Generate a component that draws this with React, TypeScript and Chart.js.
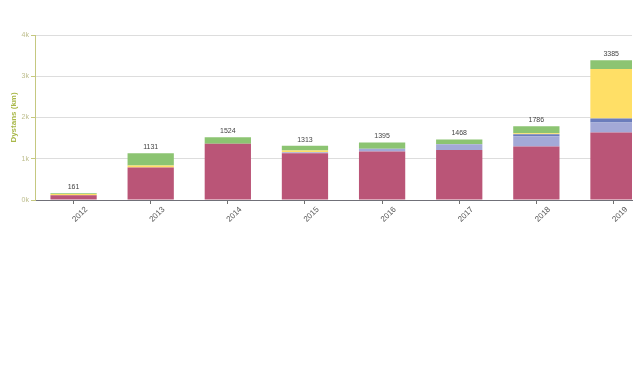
import React, { useEffect, useRef } from "react";
import { Chart, registerables } from "chart.js";

Chart.register(...registerables);

const categories = ["2012", "2013", "2014", "2015", "2016", "2017", "2018", "2019"];
const crimsonValues = [118, 790, 1365, 1135, 1175, 1215, 1300, 1635];
const lavenderValues = [0, 0, 0, 25, 65, 135, 245, 245];
const blueValues = [0, 0, 0, 0, 0, 0, 50, 97];
const yellowValues = [30, 45, 0, 40, 0, 0, 25, 1200];
const greenValues = [13, 296, 159, 113, 155, 118, 166, 208];
const yTickValues = [0, 1000, 2000, 3000, 4000];

const FONT = "'Liberation Sans', Arial, sans-serif";

export default function App() {
  const ref = useRef<HTMLCanvasElement>(null);

  useEffect(() => {
    if (!ref.current) return;

    const toPoints = (arr: number[]) => arr.map((v, i) => ({ x: i, y: v }));

    const totalsPlugin = {
      id: "totals",
      afterDatasetsDraw(chart: any) {
        const ctx = chart.ctx;
        const yScale = chart.scales.y;
        const area = chart.chartArea;
        const meta0 = chart.getDatasetMeta(0);
        ctx.save();
        ctx.font = `7px ${FONT}`;
        ctx.fillStyle = "#444444";
        ctx.textAlign = "center";
        ctx.textBaseline = "middle";
        categories.forEach((_, i) => {
          const total = chart.data.datasets.reduce((s: number, d: any) => s + d.data[i].y, 0);
          const bar = meta0.data[i];
          const l = Math.max(bar.x - bar.width / 2, area.left);
          const r = Math.min(bar.x + bar.width / 2, area.right);
          ctx.fillText(String(total), (l + r) / 2, yScale.getPixelForValue(total) - 6);
        });
        ctx.restore();
      },
    };

    const xLabelsPlugin = {
      id: "xlabels",
      afterDraw(chart: any) {
        const ctx = chart.ctx;
        const xScale = chart.scales.x;
        ctx.save();
        ctx.font = `8px ${FONT}`;
        ctx.fillStyle = "#555555";
        ctx.textAlign = "center";
        ctx.textBaseline = "middle";
        categories.forEach((c, i) => {
          const px = xScale.getPixelForValue(i);
          ctx.save();
          ctx.translate(px + 6.5, xScale.top + 14.5);
          ctx.rotate(-Math.PI / 4);
          ctx.fillText(c, 0, 0);
          ctx.restore();
        });
        ctx.restore();
      },
    };

    const common = { borderWidth: 0, stack: "s", clip: 0, categoryPercentage: 1, barPercentage: 0.6 };

    const chart = new Chart(ref.current, {
      type: "bar",
      data: {
        datasets: [
          { ...common, label: "a", data: toPoints(crimsonValues), backgroundColor: "#BA5577" },
          { ...common, label: "b", data: toPoints(lavenderValues), backgroundColor: "#A3A9D7" },
          { ...common, label: "c", data: toPoints(blueValues), backgroundColor: "#6B7DBC" },
          { ...common, label: "d", data: toPoints(yellowValues), backgroundColor: "#FFDF66" },
          { ...common, label: "e", data: toPoints(greenValues), backgroundColor: "#8CC472" },
        ] as any,
      },
      options: {
        responsive: false,
        devicePixelRatio: 1,
        animation: false,
        layout: { padding: { top: 35, right: 8, left: 0, bottom: 0 } },
        plugins: { legend: { display: false }, tooltip: { enabled: false }, title: { display: false } },
        scales: {
          x: {
            type: "linear",
            stacked: true,
            offset: false,
            min: -0.5,
            max: 7.24,
            afterBuildTicks: (axis: any) => {
              axis.ticks = categories.map((_, i) => ({ value: i }));
            },
            afterFit: (scale: any) => {
              scale.height = 172;
            },
            ticks: { display: false },
            grid: {
              offset: false,
              drawOnChartArea: false,
              drawTicks: true,
              tickLength: 4,
              tickColor: "#707070",
            },
            border: { display: true, color: "#707078", width: 1 },
          },
          y: {
            stacked: true,
            min: 0,
            max: 4000,
            afterBuildTicks: (axis: any) => {
              axis.ticks = yTickValues.map((v) => ({ value: v }));
            },
            afterFit: (scale: any) => {
              scale.width = 35;
            },
            ticks: {
              padding: 2,
              color: "#BDBD8C",
              font: { size: 7, family: FONT },
              callback: (v: any) => `${Number(v) / 1000}k`,
            },
            grid: { color: "#DDDDDD", tickColor: "#C5C880", tickLength: 4, lineWidth: 1 },
            border: { display: true, color: "#C5C880", width: 1 },
            title: {
              display: true,
              text: "Dystans (km)",
              color: "#A9B84A",
              font: { size: 8, weight: "bold", family: FONT },
              padding: { top: 9, bottom: 0 },
            },
          },
        },
      } as any,
      plugins: [totalsPlugin, xLabelsPlugin],
    });

    return () => chart.destroy();
  }, []);

  return (
    <div style={{ position: "absolute", left: 0, top: 0, width: 640, height: 372, background: "#fff" }}>
      <canvas ref={ref} width={640} height={372} style={{ width: 640, height: 372, display: "block" }} />
    </div>
  );
}
